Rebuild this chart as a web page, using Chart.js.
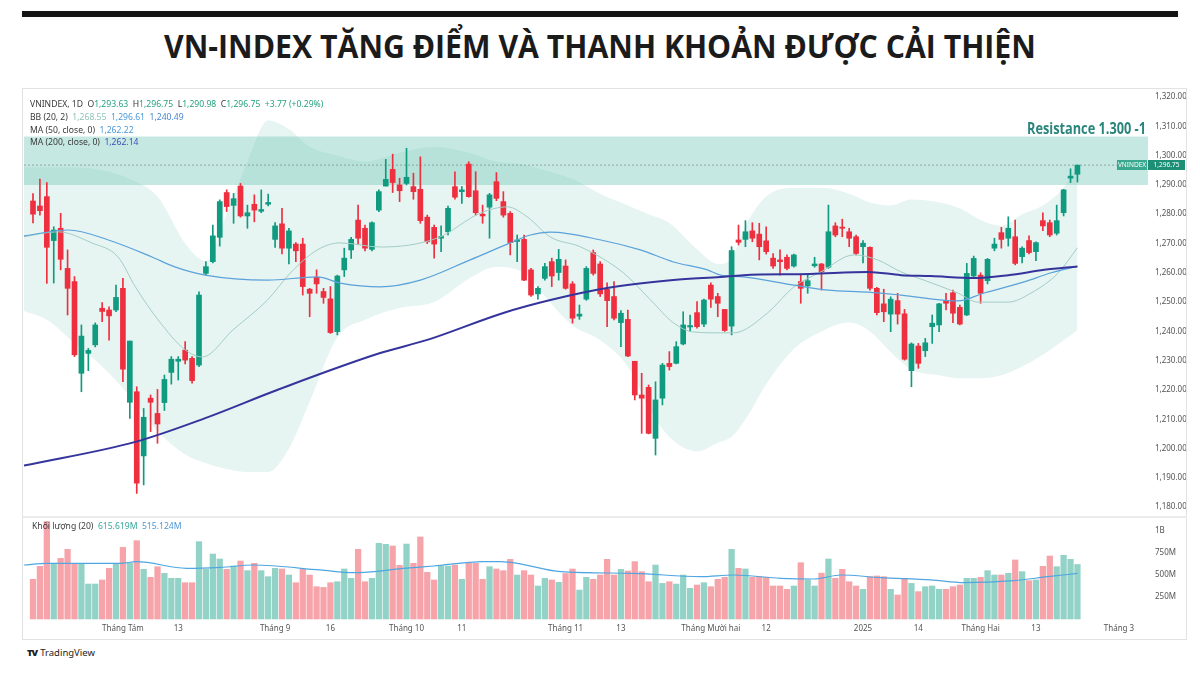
<!DOCTYPE html>
<html lang="vi">
<head>
<meta charset="UTF-8">
<title>VN-Index tăng điểm</title>
<script src="https://cdn.jsdelivr.net/npm/chart.js"></script>
<style>
  html, body { margin: 0; padding: 0; background: #fff; }
  body { width: 1200px; height: 677px; position: relative; overflow: hidden; font-family: "Noto Sans", Arial, sans-serif; }
  .rule { position: absolute; left: 22px; top: 11px; width: 1156px; height: 6px; background: #151515; }
  h1 { position: absolute; left: 0; top: 24px; width: 1200px; margin: 0; text-align: center;
       font: 700 32px "Open Sans", sans-serif; color: #1b1b1b; transform: scaleX(0.945); }
  .frame { position: absolute; left: 22px; top: 88px; width: 1165px; height: 552px; border: 1px solid #e2e2e2; box-sizing: border-box; }
  .sep { position: absolute; left: 22px; top: 516px; width: 1165px; height: 2px; background: #ebebeb; }
  #priceBox { position: absolute; left: 24px; top: 90px; }
  #volBox { position: absolute; left: 24px; top: 519px; }
  .lg { position: absolute; left: 30px; font-size: 8.6px; line-height: 11px; color: #3a3a3a; white-space: nowrap; }
  .g { color: #26a17f; }
  .tv { position: absolute; left: 27px; top: 646px; font-size: 9.5px; color: #222; white-space: nowrap; }
  .tv b { font-weight: 900; letter-spacing: -1px; margin-right: 3px; }
</style>
</head>
<body>
<div class="rule"></div>
<h1>VN-INDEX TĂNG ĐIỂM VÀ THANH KHOẢN ĐƯỢC CẢI THIỆN</h1>
<div class="frame"></div>

<div id="priceBox"><canvas id="price" width="1162" height="426"></canvas></div>
<div class="sep"></div>
<div id="volBox"><canvas id="vol" width="1162" height="120"></canvas></div>

<div class="lg" style="top:99px">VNINDEX, 1D&nbsp; O<span class="g">1,293.63</span>&nbsp; H<span class="g">1,296.75</span>&nbsp; L<span class="g">1,290.98</span>&nbsp; C<span class="g">1,296.75</span>&nbsp; <span class="g">+3.77 (+0.29%)</span></div>
<div class="lg" style="top:112px">BB (20, 2)&nbsp; <span style="color:#8fc2b8">1,268.55</span>&nbsp; <span style="color:#4d98d6">1,296.61</span>&nbsp; <span style="color:#4a86d0">1,240.49</span></div>
<div class="lg" style="top:125px">MA (50, close, 0)&nbsp; <span style="color:#4d98d6">1,262.22</span></div>
<div class="lg" style="top:137px">MA (200, close, 0)&nbsp; <span style="color:#3f4fb8">1,262.14</span></div>
<div class="lg" style="top:521px; left:32px">Khối lượng (20)&nbsp; <span style="color:#35a89a">615.619M</span>&nbsp; <span style="color:#4d98d6">515.124M</span></div>
<div class="tv"><b>TV</b>TradingView</div>

<script>
// ---- candles (trading days 15/07/2024 – 21/02/2025) ----
const open = [1284.5,1282.8,1286,1271,1275.2,1261.5,1257,1225.7,1232.5,1235.4,1247.9,1247.3,1247.3,1254.7,1215.8,1219.4,1197.5,1217.2,1212,1215.7,
  1226,1229.8,1233.6,1230.8,1228.5,1259.8,1263.8,1272.1,1287.4,1283,1289.6,1279.4,1283.4,1281,1283.4,1271.4,1276.7,1268.4,1269.8,1269.8,
  1254.4,1258.5,1253.6,1251.1,1239.9,1261,1267.8,1278,1275.2,1268,1281.4,1289.6,1295.3,1290,1290.5,1289.4,1288.5,1279,1275.5,1271.8,
  1274,1289.4,1287.7,1297.1,1288,1280,1282.4,1291.1,1284.3,1280.3,1270.7,1271.4,1261,1252.8,1258.1,1263.8,1260.1,1262.3,1256.2,1245.2,
  1251,1266.9,1263,1254.4,1251.9,1243,1244.1,1229.8,1218.3,1220.9,1203.5,1217.2,1229.1,1229.1,1235.7,1241.5,1246.4,1242.5,1255.8,1251.9,
  1247.5,1241.8,1271.2,1271.4,1274.3,1273.2,1270.9,1265,1264.4,1265.3,1262.3,1257,1255.5,1262.4,1263,1261.9,1276,1275.6,1274,1272.3,
  1268.9,1268.7,1254.7,1249.4,1245.9,1250.5,1246,1226.6,1235,1233.4,1241.6,1242.2,1250.5,1253.2,1248.2,1245.6,1258.9,1259.2,1257.3,1268.4,
  1273.7,1271.8,1272.3,1265.5,1271,1267.2,1277.8,1277.1,1273.5,1280.5,1292.3,1293.63];
const high = [1287,1292,1290.8,1275.7,1280.3,1267.8,1258.7,1242.2,1234.2,1242.9,1249.8,1248.4,1255.8,1258.1,1236.7,1221.1,1213.7,1218.3,1220.2,1225.1,
  1231.4,1231.4,1236.5,1231.4,1253.5,1263.8,1276.3,1284.9,1288.3,1287.1,1290.5,1283.1,1286.6,1288.3,1286.9,1277.1,1282,1275.2,1270.3,1271.8,
  1254.7,1261,1254.7,1255.3,1259.2,1268.4,1272.1,1283.1,1276.3,1277.4,1288.3,1298.7,1300.5,1292.3,1302.5,1294,1299.6,1279.7,1276.3,1276,
  1282.8,1294.5,1289.4,1297.9,1294.5,1283.1,1287.1,1294.2,1287.7,1280.9,1272.9,1272.9,1261.5,1255.3,1263.2,1265,1268,1264.4,1257,1249,
  1262.1,1267.8,1263.8,1256.6,1257,1247.1,1247.3,1229.8,1225.7,1221.7,1222.8,1229.1,1233.1,1236.5,1246.7,1245.6,1250.2,1251,1256.6,1253,
  1247.5,1268.9,1276.3,1277.8,1277.1,1276.9,1275.7,1266.6,1267.8,1266.1,1266.4,1259.2,1259.2,1265.3,1263.2,1283.1,1277.1,1278.3,1275.2,1272.9,
  1271,1268.9,1255,1254.4,1251.8,1253,1247.5,1236.1,1235.9,1237.6,1245.6,1249.6,1253,1254.1,1249,1263.2,1265.7,1260,1264.9,1271.8,
  1275.5,1279.1,1278,1268.9,1272.6,1270.6,1280.5,1278,1283.1,1288.5,1295.5,1296.75];
const low = [1277,1279.7,1256.4,1256.5,1261,1245.6,1231.4,1219.4,1226.6,1234.7,1243.3,1237,1246.7,1222.8,1210.3,1184.7,1187.6,1205.8,1201.8,1213,
  1222,1223.4,1228.9,1222.3,1228,1259.2,1263.4,1269.1,1280.9,1276.9,1279,1275.2,1277.4,1280.5,1282.8,1268.7,1266.4,1263,1263.8,1252.4,
  1245,1253,1249.6,1239.3,1238.8,1258.7,1264.9,1269.8,1267.5,1267.5,1280.9,1289.6,1287.4,1284.3,1290,1285.1,1276.9,1270,1265,1267.2,
  1272.9,1285.1,1283.7,1285.8,1279.7,1276.9,1271.8,1284.6,1279,1266.1,1263.8,1257.3,1251.9,1251,1257.5,1255.3,1257.5,1254.4,1242.8,1244.1,
  1250.6,1259.2,1251.9,1241.6,1243.9,1234.8,1231.4,1216.6,1205.2,1205,1197.8,1214.9,1226.8,1228.9,1235.4,1239.9,1241.1,1241.6,1248.2,1245,
  1240,1238.8,1269.5,1268.9,1270.6,1264.4,1266.4,1261.5,1259.2,1261,1261.9,1249.6,1253,1261.9,1254.1,1261.5,1272.3,1272.3,1268.9,1266.1,
  1263.4,1254.1,1245.6,1243.3,1239.9,1242.5,1230.2,1221.1,1227.4,1231.4,1235.9,1239.9,1247.3,1243,1242.2,1245.4,1258.7,1249.6,1256.2,1267.5,
  1268.4,1269.1,1262.7,1263.4,1266.4,1264.1,1274.4,1272.3,1272.9,1279.4,1290.8,1290.98];
const close = [1280,1281.2,1268.7,1274.6,1264.6,1254.7,1232,1238.4,1233.5,1242.2,1246.8,1245.3,1251.6,1227.1,1236.7,1188.2,1210.7,1215.8,1208.4,1223.6,
  1230.5,1230.5,1230.2,1223.2,1252.4,1262.1,1272.6,1284.3,1282.6,1285.3,1279.4,1280.5,1281.4,1281.6,1284,1276,1268.4,1274.3,1267.5,1255.3,
  1253,1256.2,1251.6,1239.6,1258.9,1265,1271.4,1271.8,1268.4,1277.1,1287.7,1291.9,1290.8,1288,1292.6,1287.7,1277.8,1270.6,1269.8,1272.4,
  1282,1285.8,1288.3,1286,1280.5,1279.4,1286.6,1285.4,1279.7,1270.3,1271.2,1257.5,1252.4,1254.7,1262.1,1258.9,1264.6,1254.7,1244.5,1245.9,
  1261.5,1259.8,1252.8,1250.5,1244.5,1246.2,1231.6,1218.3,1217.2,1205.2,1216.6,1228.5,1228,1234.8,1242.2,1242,1241.6,1250.7,1251,1249.6,
  1240.3,1267.6,1270.4,1274,1271.8,1268.9,1267.2,1262.3,1263.8,1261.5,1266.1,1254.7,1257.3,1263,1260.4,1274,1272.9,1275.2,1271.8,1266.6,
  1270.1,1254.7,1246.4,1246.7,1251,1245.9,1230.5,1235.7,1229.1,1236.1,1242.8,1249.4,1249.6,1246.2,1242.5,1259.8,1264.9,1253,1264.6,1269.8,
  1271.4,1275.2,1263.2,1268.4,1266.9,1270.3,1276,1272.9,1277.8,1288.3,1292.98,1296.75];
// volume, millions of shares
const volume = [448,595,1100,629,686,787,621,621,395,395,441,573,629,810,629,885,561,471,591,516,
  460,460,410,410,874,561,734,678,561,599,655,546,629,546,478,573,565,497,410,561,
  497,365,357,410,421,565,460,787,421,460,855,844,825,606,847,629,927,527,441,599,
  599,610,448,629,629,448,591,565,546,674,497,546,497,373,460,441,414,514,565,327,
  471,448,497,674,497,561,542,648,535,421,610,402,421,395,497,346,384,410,365,448,
  471,787,573,565,471,478,471,373,373,335,373,636,441,373,518,678,460,561,421,373,
  335,478,486,478,335,271,460,402,309,365,373,335,335,365,384,460,460,471,546,497,
  497,516,667,535,433,441,595,712,591,720,674,616];

// ---- indicators (candle index -> value) ----
const ma200Idx = [-1.3,14.8,24.9,35.3,50.2,57,68,74.8,83,92.6,99.4,102.7,112.4,120.7,125.5,129.8,136,141,146.2,151];
const ma200Val = [1194.2,1202.3,1210.4,1220,1232.6,1237.1,1246.3,1250.7,1254.8,1257.5,1258.6,1259.2,1259.6,1260.3,1259.2,1258.9,1258.2,1259.2,1261,1262.14];
const ma50Idx = [-1.3,5.1,10.9,17.2,20.5,24.9,33.9,41.1,44.4,50.2,56,63.2,69,71.9,74.8,82.1,87.8,92.6,97.5,99.4,102.7,110,114.9,120.7,125.5,133.7,137.5,143.3,147.2,151];
const ma50Val = [1272.6,1274.6,1271.2,1265.4,1262,1259.2,1257.5,1258.6,1256.5,1255.2,1257.5,1264.4,1270.2,1272.9,1273.9,1271.2,1267.8,1263.7,1261,1259.2,1258.6,1255.8,1254.1,1253.4,1252.4,1250.4,1253.1,1256.9,1260,1262.22];
const bbMidIdx = [-1.3,3.6,8.5,12.3,14.8,18.1,22,24.5,28.9,33.9,37.2,41.1,44.4,50.2,58.5,64.7,68.6,71.5,74.8,79.2,85.4,89.3,92.6,95.5,99.4,101.3,106.2,110,113.9,118.7,122.1,125.5,128.8,133.7,136.6,141,144.3,148.2,151];
const bbMidVal = [1272.3,1274,1270.2,1265.4,1255.2,1243.9,1233.7,1231.3,1240.5,1250.7,1259.9,1267.8,1270.2,1268.8,1271.9,1280.4,1282.5,1279,1272.2,1268.8,1259.9,1250.7,1242.9,1239.8,1239.5,1239.5,1246.3,1255.2,1260.3,1266.1,1264.4,1260.3,1257.5,1253.1,1250,1250,1253.1,1259.9,1268.55];
const bbIdx = [-1.3,2,6,10,14,18,22,25,28,31,34,37,40,44,48,53,58,63,67,71,74,78,82,86,89,92,96,99,101,103,106,110,114,118,121,124,127,131,134,137,140,143,146,149,151];
const bbUpper = [1296,1296,1296,1295,1292,1286,1270,1264,1280,1298,1312,1309,1303,1300,1298,1301,1303,1301,1298,1297,1295,1292,1287,1283,1280,1277,1268,1263,1265,1276,1286,1289,1289,1287,1284,1283,1285,1284,1282,1278,1276,1280,1283,1289,1296.61];
const bbLower = [1247,1244,1236,1228,1218,1206,1198,1195,1193,1192,1192,1200,1216,1238,1244,1248,1250,1258,1262,1260,1252,1242,1237,1228,1214,1204,1199,1202,1204,1210,1222,1234,1240,1243,1240,1233,1227,1225,1224,1224,1225,1228,1232,1237,1240.49];
const volMaIdx = [-1.3,2,12.6,15,22.2,27.1,31.9,41.5,46.3,54,57.9,65.1,67.6,70,76.3,86.8,96.5,101.3,108.1,112.9,116.8,122.6,129.8,134.6,141.8,146.7,151];
const volMaVal = [610,629,629,648,573,584,610,554,523,575,599,648,648,629,535,516,478,497,460,452,497,467,441,410,433,478,515];

const resistanceTop = 1306.5, resistanceBottom = 1290;
const lastPrice = 1296.75;
const priceTicks = [1180,1190,1200,1210,1220,1230,1240,1250,1260,1270,1280,1290,1300,1310,1320];
const volTicks = [250,500,750,1000];
const xTickIdx = [13,21,35,43,54,62,77,85,98,106,120,128,137,145,157];
const xTickText = ['Tháng Tám','13','Tháng 9','16','Tháng 10','11','Tháng 11','13','Tháng Mười hai','12','2025','14','Tháng Hai','13','Tháng 3'];

const xMin = -1.3, xMax = 161.2;
const idx = open.map((_, i) => i);
const up = idx.map(i => close[i] >= open[i]);
const candleCol = up.map(u => u ? '#109a7f' : '#ee2f3f');
const volCol = up.map(u => u ? '#93d2c6' : '#f6a3a9');
const pts = (xs, ys) => xs.map((x, k) => ({ x: x, y: ys[k] }));
const fmt = v => v.toLocaleString('en-US', { minimumFractionDigits: 2, maximumFractionDigits: 2 });
const axisFont = { family: 'Noto Sans', size: 8 };

function lineSet(data, color, width, order) {
  return { type: 'line', data: data, borderColor: color, borderWidth: width, pointRadius: 0, pointHoverRadius: 0,
           cubicInterpolationMode: 'monotone', fill: false, order: order };
}
function fixRightAxis(w) {
  return function (s) { s.width = w; s.paddingTop = 0; s.paddingBottom = 0; };
}

const overlay = {
  id: 'overlay',
  afterDraw(chart) {
    const { ctx, chartArea: a, scales: { y } } = chart;
    const py = Math.round(y.getPixelForValue(lastPrice));
    ctx.save();
    ctx.fillStyle = '#3aa78f';
    ctx.fillRect(a.right - 31, py - 5, 30, 10);
    ctx.fillStyle = '#1d8f76';
    ctx.fillRect(a.right, py - 5, 37, 10);
    ctx.fillStyle = '#fff';
    ctx.font = '6.5px "Noto Sans"';
    ctx.textBaseline = 'middle';
    ctx.textAlign = 'center';
    ctx.fillText('VNINDEX', a.right - 16, py);
    ctx.fillText(fmt(lastPrice), a.right + 18.5, py);
    // label of the resistance zone, squeezed to the width it has in the picture
    ctx.font = '700 16px "Open Sans"';
    const txt = 'Resistance 1.300 -1';
    const w = ctx.measureText(txt).width;
    ctx.translate(a.right - 2 - 119, y.getPixelForValue(resistanceTop) - 3);
    ctx.scale(119 / w, 1);
    ctx.fillStyle = '#2a857c';
    ctx.textAlign = 'left';
    ctx.textBaseline = 'alphabetic';
    ctx.fillText(txt, 0, 0);
    ctx.restore();
  }
};

new Chart(document.getElementById('price'), {
  data: {
    datasets: [
      { type: 'line', data: pts(bbIdx, bbUpper), borderWidth: 0, borderColor: 'rgba(0,0,0,0)', pointRadius: 0, pointHoverRadius: 0,
        cubicInterpolationMode: 'monotone', fill: '+1', backgroundColor: 'rgba(150,210,200,0.24)', order: 30 },
      { type: 'line', data: pts(bbIdx, bbLower), borderWidth: 0, borderColor: 'rgba(0,0,0,0)', pointRadius: 0, pointHoverRadius: 0,
        cubicInterpolationMode: 'monotone', fill: false, order: 30 },
      { type: 'line', data: pts([xMin, xMax], [resistanceTop, resistanceTop]), borderWidth: 0, borderColor: 'rgba(0,0,0,0)',
        pointRadius: 0, pointHoverRadius: 0, fill: '+1', backgroundColor: 'rgba(120,200,186,0.42)', order: 25 },
      { type: 'line', data: pts([xMin, xMax], [resistanceBottom, resistanceBottom]), borderWidth: 0, borderColor: 'rgba(0,0,0,0)',
        pointRadius: 0, pointHoverRadius: 0, fill: false, order: 25 },
      { type: 'line', data: pts([xMin, xMax], [lastPrice, lastPrice]), borderColor: '#8fa5a0', borderWidth: 1,
        borderDash: [2, 2], pointRadius: 0, pointHoverRadius: 0, fill: false, order: 20 },
      { type: 'bar', data: idx.map(i => ({ x: i, y: [low[i], high[i]] })), backgroundColor: candleCol,
        barThickness: 1, grouped: false, order: 12 },
      { type: 'bar', data: idx.map(i => ({ x: i, y: [open[i], close[i]] })), backgroundColor: candleCol,
        barThickness: 5, minBarLength: 1, grouped: false, order: 11 },
      lineSet(pts(bbMidIdx, bbMidVal), '#a3cdc4', 1, 5),
      lineSet(pts(ma50Idx, ma50Val), '#5ba2da', 1.2, 4),
      lineSet(pts(ma200Idx, ma200Val), '#34349c', 2, 3)
    ]
  },
  options: {
    responsive: false, animation: false, events: [],
    layout: { padding: 0, autoPadding: false },
    plugins: { legend: { display: false }, tooltip: { enabled: false } },
    scales: {
      x: { type: 'linear', min: xMin, max: xMax, offset: false, bounds: 'data', display: false },
      y: {
        position: 'right', min: 1176.99, max: 1322.39,
        grid: { display: false, drawTicks: false }, border: { display: false },
        afterBuildTicks: s => { s.ticks = priceTicks.map(v => ({ value: v })); },
        afterFit: fixRightAxis(38),
        ticks: { padding: 7, color: '#555', font: axisFont, callback: v => fmt(v) }
      }
    }
  },
  plugins: [overlay]
});

new Chart(document.getElementById('vol'), {
  data: {
    datasets: [
      lineSet(pts(volMaIdx, volMaVal), '#4fa6e0', 1.2, 1),
      { type: 'bar', data: idx.map(i => ({ x: i, y: volume[i] })), backgroundColor: volCol,
        barThickness: 5.6, grouped: false, order: 5 }
    ]
  },
  options: {
    responsive: false, animation: false, events: [],
    layout: { padding: 0, autoPadding: false },
    plugins: { legend: { display: false }, tooltip: { enabled: false } },
    scales: {
      x: {
        type: 'linear', min: xMin, max: xMax, offset: false, bounds: 'data',
        grid: { display: false, drawTicks: false }, border: { display: false },
        afterBuildTicks: s => { s.ticks = xTickIdx.map(v => ({ value: v })); },
        afterFit: s => { s.height = 17; s.paddingLeft = 0; s.paddingRight = 0; },
        ticks: { autoSkip: false, maxRotation: 0, padding: 2, color: '#555', font: axisFont,
                 callback: v => xTickText[xTickIdx.indexOf(v)] }
      },
      y: {
        position: 'right', min: -34, max: 1130,
        grid: { display: false, drawTicks: false }, border: { display: false },
        afterBuildTicks: s => { s.ticks = volTicks.map(v => ({ value: v })); },
        afterFit: fixRightAxis(38),
        ticks: { padding: 7, color: '#555', font: axisFont,
                 callback: v => v === 1000 ? '1B' : v + 'M' }
      }
    }
  }
});
</script>
</body>
</html>
